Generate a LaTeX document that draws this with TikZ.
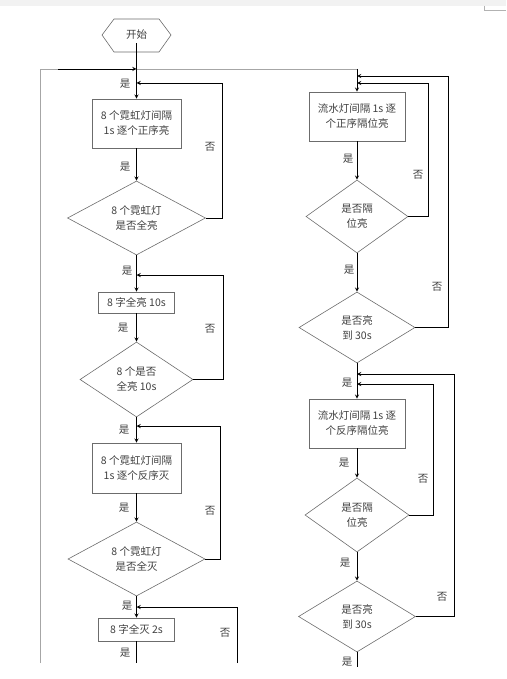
\documentclass[tikz,border=0pt]{standalone}
\usepackage{fontspec}
\setmainfont{Noto Sans CJK SC}
\usetikzlibrary{shapes.geometric}
\tikzset{
  box/.style={draw=gray!85!black, line width=0.6pt, align=center, inner sep=0pt, text=black!75, font=\fontsize{10.5}{15}\selectfont},
  dec/.style={diamond, draw=gray!85!black, line width=0.6pt, align=center, inner sep=0pt, aspect=1.7, text=black!75, font=\fontsize{10.5}{15}\selectfont},
  arr/.style={-stealth, line width=0.9pt},
  lbl/.style={text=black!75, font=\fontsize{10.5}{12}\selectfont}
}
\begin{document}
\begin{tikzpicture}[x=1pt,y=-1pt]
\useasboundingbox (0,0) rectangle (506,679);
\fill[gray!10] (0,0) rectangle (506,6);
\draw[gray!60, line width=0.6pt] (484,6) -- (484,10) -- (506,10);
% left column
\draw[gray!85!black, line width=0.6pt] (102,35) -- (114,19) -- (159,19) -- (171,35) -- (159,52) -- (114,52) -- cycle;
\node[lbl] (start) at (136.5,35) {开始};
\node[box, minimum width=89pt, minimum height=49pt] (b1) at (136.5,123.5) {8 个霓虹灯间隔\\1s 逐个正序亮};
\node[dec, minimum width=138pt, minimum height=74pt] (d1) at (136.5,218) {8 个霓虹灯\\是否全亮};
\node[box, minimum width=76pt, minimum height=21pt] (b2) at (136.5,302.5) {8 字全亮 10s};
\node[dec, minimum width=113pt, minimum height=75pt] (d2) at (136.5,379.5) {8 个是否\\全亮 10s};
\node[box, minimum width=89pt, minimum height=50pt] (b3) at (136.5,468) {8 个霓虹灯间隔\\1s 逐个反序灭};
\node[dec, minimum width=137pt, minimum height=74pt] (d3) at (136.5,559) {8 个霓虹灯\\是否全灭};
\node[box, minimum width=76pt, minimum height=23pt] (b4) at (136.5,629.5) {8 字全灭 2s};
\coordinate (j0) at (136.5,69);
\coordinate (j1) at (136.5,83);
\coordinate (j2) at (136.5,275);
\coordinate (j3) at (136.5,426);
\coordinate (j4) at (136.5,607);
\coordinate (lend) at (136.5,663);
\coordinate (back) at (40,663);
\coordinate (back2) at (58,69);
\coordinate (loop4) at (237,663);
\draw[gray!70, line width=0.6pt] (back) |- (back2);
\draw[arr] (back2) -- (j0);
\draw[arr] (start) -- (b1);
\draw[arr] (b1) -- (d1);
\draw[arr] (d1) -- (b2);
\draw[arr] (b2) -- (d2);
\draw[arr] (d2) -- (b3);
\draw[arr] (b3) -- (d3);
\draw[arr] (d3) -- (b4);
\draw[line width=0.9pt] (b4) -- (lend);
\draw[arr] (d1.east) -- ++(17,0) |- (j1);
\draw[arr] (d2.east) -- ++(30,0) |- (j2);
\draw[arr] (d3.east) -- ++(15,0) |- (j3);
\draw[arr] (loop4) |- (j4);
\node[lbl] at (125,84) {是};
\node[lbl] at (125,167) {是};
\node[lbl] at (210,147) {否};
\node[lbl] at (127,271) {是};
\node[lbl] at (123,328) {是};
\node[lbl] at (210,329) {否};
\node[lbl] at (124,430) {是};
\node[lbl] at (124,508) {是};
\node[lbl] at (210,511) {否};
\node[lbl] at (127,606) {是};
\node[lbl] at (225,633) {否};
\node[lbl] at (125,653) {是};
% right column
\node[box, minimum width=96pt, minimum height=49pt] (r1) at (357,116.5) {流水灯间隔 1s 逐\\个正序隔位亮};
\node[dec, minimum width=102pt, minimum height=73pt] (rd1) at (357,216.5) {是否隔\\位亮};
\node[dec, minimum width=116pt, minimum height=71pt] (rd2) at (357,327.5) {是否亮\\到 30s};
\node[box, minimum width=96pt, minimum height=49pt] (r2) at (357,423.5) {流水灯间隔 1s 逐\\个反序隔位亮};
\node[dec, minimum width=104pt, minimum height=74pt] (rd3) at (357,515) {是否隔\\位亮};
\node[dec, minimum width=117pt, minimum height=71pt] (rd4) at (357,616.5) {是否亮\\到 30s};
\coordinate (k0) at (357,69);
\coordinate (k1) at (357,76);
\coordinate (k2) at (357,83);
\coordinate (k3) at (357,374);
\coordinate (k4) at (357,384);
\coordinate (rend) at (357,667);
\draw[gray!70, line width=0.6pt] (j0) -- (k0);
\draw[arr] (k0) -- (r1);
\draw[arr] (r1) -- (rd1);
\draw[arr] (rd1) -- (rd2);
\draw[arr] (rd2) -- (r2);
\draw[arr] (r2) -- (rd3);
\draw[arr] (rd3) -- (rd4);
\draw[line width=0.9pt] (rd4) -- (rend);
\draw[arr] (rd1.east) -- ++(20,0) |- (k2);
\draw[arr] (rd2.east) -- ++(33,0) |- (k1);
\draw[arr] (rd3.east) -- ++(24,0) |- (k4);
\draw[arr] (rd4.east) -- ++(39,0) |- (k3);
\node[lbl] at (348,159) {是};
\node[lbl] at (418,175) {否};
\node[lbl] at (349,270) {是};
\node[lbl] at (437,287) {否};
\node[lbl] at (347,383) {是};
\node[lbl] at (344,463) {是};
\node[lbl] at (423,479) {否};
\node[lbl] at (345,563) {是};
\node[lbl] at (442,597) {否};
\node[lbl] at (347,662) {是};
\end{tikzpicture}
\end{document}
